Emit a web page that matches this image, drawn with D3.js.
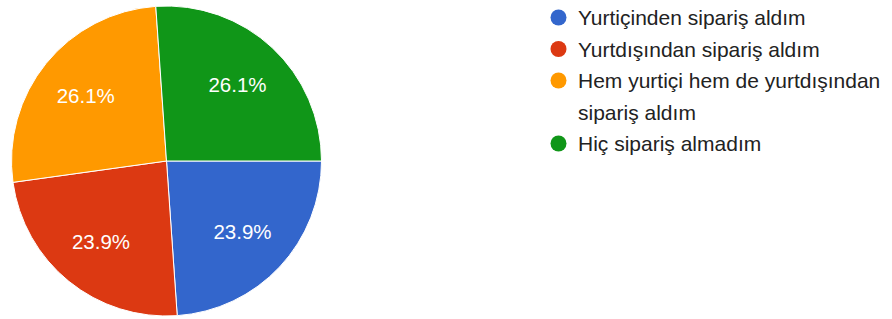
<!DOCTYPE html>
<meta charset="utf-8">
<head>
<script src="https://d3js.org/d3.v7.min.js"></script>
<style>
  body { margin: 0; background: #fff; }
  svg { display: block; font-family: Arial, "Liberation Sans", sans-serif; }
</style>
</head>
<body>
<svg id="chart" width="892" height="319"></svg>
<script>
  // chart data
  var categories = [
    "Yurtiçinden sipariş aldım",
    "Yurtdışından sipariş aldım",
    "Hem yurtiçi hem de yurtdışından sipariş aldım",
    "Hiç sipariş almadım"
  ];
  var percents = [23.9, 23.9, 26.1, 26.1];
  var colors = ["#3366cc", "#dc3912", "#ff9900", "#109618"];

  var svg = d3.select("#chart");
  var cx = 166.5, cy = 161, radius = 155;

  var rows = categories.map(function(c, i){ return {name: c, value: percents[i], color: colors[i]}; });

  var pie = d3.pie()
      .sort(null)
      .value(function(d){ return d.value; })
      .startAngle(Math.PI / 2)
      .endAngle(Math.PI / 2 + 2 * Math.PI);

  var arc = d3.arc().innerRadius(0).outerRadius(radius);
  var labelArc = d3.arc().innerRadius(104).outerRadius(104);

  var g = svg.append("g").attr("transform", "translate(" + cx + "," + cy + ")");

  var slices = g.selectAll("g.slice")
      .data(pie(rows))
      .enter().append("g").attr("class", "slice");

  slices.append("path")
      .attr("d", arc)
      .attr("fill", function(d){ return d.data.color; })
      .attr("stroke", "#fff")
      .attr("stroke-width", 1);

  slices.append("text")
      .attr("transform", function(d){ return "translate(" + labelArc.centroid(d) + ")"; })
      .attr("text-anchor", "middle")
      .attr("dy", "0.36em")
      .attr("fill", "#fff")
      .style("font-size", "20.5px")
      .text(function(d){ return d.data.value.toFixed(1) + "%"; });

  // legend
  var legX = 558.5, textX = 578, firstBase = 25, lineH = 31.5, maxW = 312;
  var legend = svg.append("g").style("font-size", "21px").attr("fill", "#222");
  var line = 0;

  rows.forEach(function(r){
    var base = firstBase + line * lineH;
    legend.append("circle")
        .attr("cx", legX).attr("cy", base - 7.5).attr("r", 8)
        .attr("fill", r.color);
    var t = legend.append("text").attr("x", textX).attr("y", base);
    // wrap words to fit the space on the right
    var words = r.name.split(" "), cur = [];
    var tspan = t.append("tspan").attr("x", textX).attr("y", base);
    words.forEach(function(w){
      cur.push(w);
      tspan.text(cur.join(" "));
      if (tspan.node().getComputedTextLength() > maxW && cur.length > 1) {
        cur.pop();
        tspan.text(cur.join(" "));
        cur = [w];
        line++;
        tspan = t.append("tspan").attr("x", textX).attr("y", firstBase + line * lineH).text(w);
      }
    });
    line++;
  });
</script>
</body>
